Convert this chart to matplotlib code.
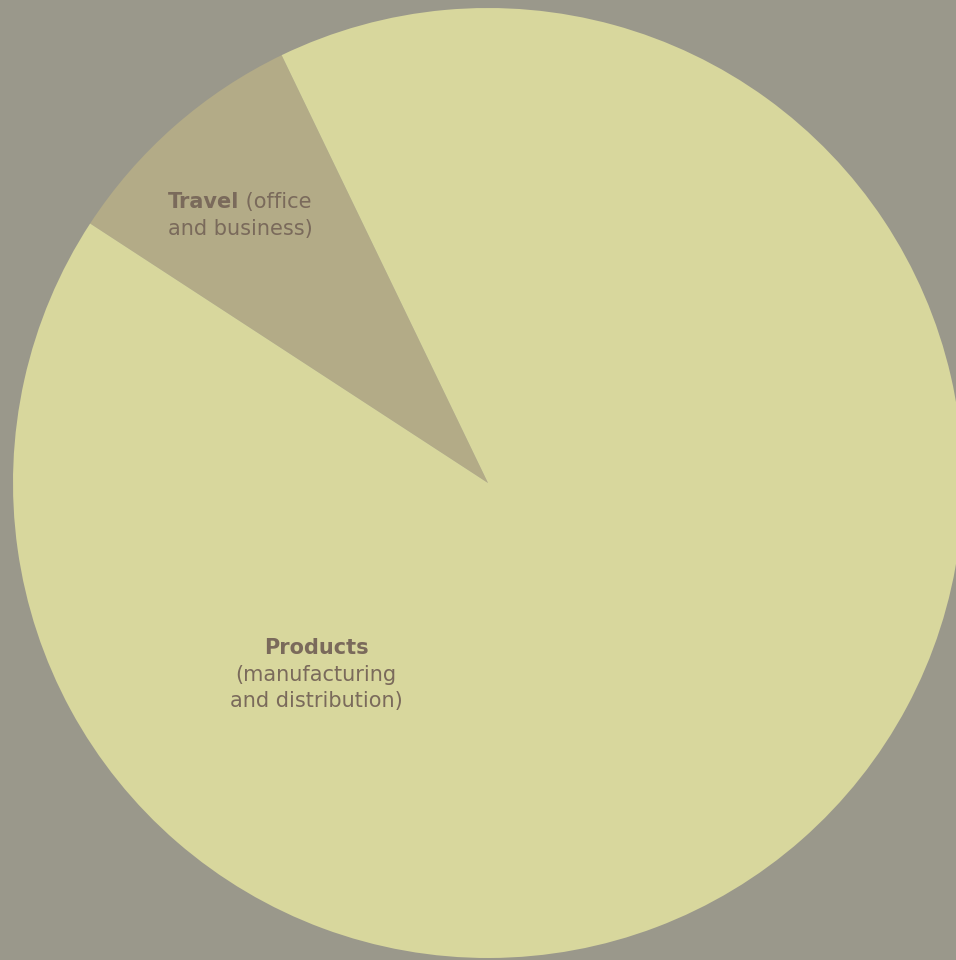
import matplotlib
matplotlib.use("Agg")
import matplotlib.pyplot as plt

categories = ["Travel", "Products"]
subtitles = ["(office\nand business)", "(manufacturing\nand distribution)"]
values = [8.65, 91.35]
colors = ["#b3ab87", "#d8d79d"]
bg = "#9a988b"
txt = "#7a6a5b"

W, H = 956, 960
cx, cy, R = 488, 483, 475

fig = plt.figure(figsize=(W / 100, H / 100), dpi=100, facecolor=bg)
ax = fig.add_axes([0, 0, 1, 1])
ax.set_facecolor(bg)
ax.pie(values, colors=colors, startangle=115.75, counterclock=True,
       radius=1, center=(0, 0), wedgeprops=dict(linewidth=0))
ax.set_xlim((0 - cx) / R, (W - cx) / R)
ax.set_ylim(-(H - cy) / R, cy / R)
ax.set_aspect("auto")
ax.axis("off")

fam = ["DejaVu Sans"]
fs = 15

def px(x, y):
    return ((x - cx) / R, (cy - y) / R)

fig.canvas.draw()
renderer = fig.canvas.get_renderer()

def mixed_line(xc, y, bold, reg):
    tb = ax.text(0, 0, bold, fontsize=fs, fontweight="bold", family=fam, color=txt)
    tr = ax.text(0, 0, reg, fontsize=fs, family=fam, color=txt)
    wb = tb.get_window_extent(renderer).width
    wr = tr.get_window_extent(renderer).width
    total = wb + wr
    x0 = xc - total / 2
    tb.set_position(px(x0, y)); tb.set_ha("left"); tb.set_va("center")
    tr.set_position(px(x0 + wb, y)); tr.set_ha("left"); tr.set_va("center")

mixed_line(240, 202, categories[0], " (office")
ax.text(*px(240, 229), "and business)", fontsize=fs, family=fam, color=txt,
        ha="center", va="center")

ax.text(*px(316, 648), categories[1], fontsize=fs, fontweight="bold", family=fam,
        color=txt, ha="center", va="center")
ax.text(*px(316, 675), "(manufacturing", fontsize=fs, family=fam, color=txt,
        ha="center", va="center")
ax.text(*px(316, 701), "and distribution)", fontsize=fs, family=fam, color=txt,
        ha="center", va="center")

fig.savefig("out.png", dpi=100, facecolor=bg)
